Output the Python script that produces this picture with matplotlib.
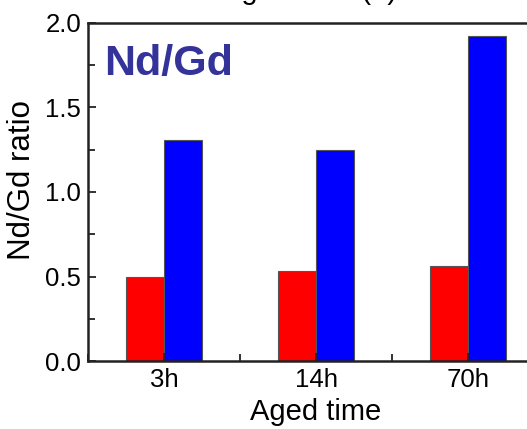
import matplotlib
matplotlib.use("Agg")
import matplotlib.pyplot as plt
import numpy as np
from matplotlib.ticker import MultipleLocator

plt.rcParams['font.family'] = ['Liberation Sans', 'DejaVu Sans']

# Nd/Gd ratio at each ageing time, two samples per time
aged_times = ['3h', '14h', '70h']
ratio_red = [0.50, 0.535, 0.565]
ratio_blue = [1.305, 1.25, 1.925]

x = np.arange(len(aged_times))
width = 0.25

fig = plt.figure(figsize=(5.27, 4.29), dpi=100)
ax = fig.add_axes([0.167, 0.1585, 0.8653, 0.7879])

ax.bar(x - width / 2, ratio_red, width, color='#ff0000', edgecolor='#555555', linewidth=0.8)
ax.bar(x + width / 2, ratio_blue, width, color='#0000ff', edgecolor='#555555', linewidth=0.8)

ax.set_xlim(-0.5, 2.5)
ax.set_ylim(0, 2.0)
ax.set_xticks(x)
ax.set_xticklabels(aged_times)
ax.xaxis.set_minor_locator(MultipleLocator(0.5))
ax.yaxis.set_major_locator(MultipleLocator(0.5))
ax.yaxis.set_minor_locator(MultipleLocator(0.25))
ax.tick_params(which='both', direction='in', labelsize=18.5, width=1.3, color='#222222')
ax.tick_params(which='major', length=6, pad=5)
ax.tick_params(which='minor', length=5)
ax.tick_params(axis='y', which='both', right=False)
ax.tick_params(axis='x', which='both', top=False)

for side in ax.spines.values():
    side.set_linewidth(1.8)
    side.set_color('#222222')

ax.set_xlabel('Aged time', fontsize=21, labelpad=4)
ax.set_ylabel('Nd/Gd ratio', fontsize=22.5)
ax.yaxis.set_label_coords(-0.112, 0.535)

ax.text(0.035, 0.845, 'Nd/Gd', transform=ax.transAxes, fontsize=31,
        fontweight='bold', color='#333399', ha='left', va='baseline')

# top axis title, mostly outside the canvas
fig.text(310 / 527, 1.002, 'Aged time (h)', fontsize=21, ha='center', va='baseline')

fig.savefig('out.png', dpi=100)
